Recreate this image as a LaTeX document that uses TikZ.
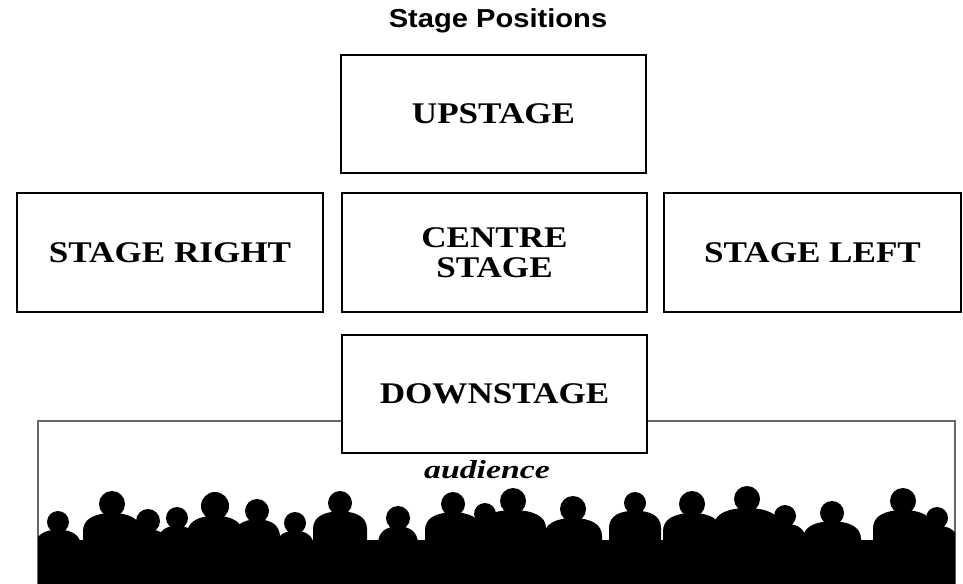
\documentclass[tikz,border=0pt]{standalone}
\usepackage{fontspec}
\setmainfont{Liberation Serif}
\newfontfamily\boxfont[FakeStretch=1.17]{Liberation Serif}
\newfontfamily\titlefont[FakeStretch=1.12]{Liberation Sans}
\newfontfamily\audfont[FakeStretch=1.3]{Liberation Serif}
\begin{document}
\begin{tikzpicture}[x=0.75pt,y=-0.75pt,
  stagebox/.style={draw=black, line width=2.1pt, fill=white, inner sep=0pt,
    minimum width=228.75pt, minimum height=88.5pt, align=center,
    font=\boxfont\bfseries\fontsize{22.5pt}{22.5pt}\selectfont},
  person/.style={fill=black},
]
\useasboundingbox (0,0) rectangle (963,584);

% title
\node[anchor=base, font=\titlefont\bfseries\fontsize{19.5pt}{19.5pt}\selectfont] (title) at (498,28) {Stage Positions};

% auditorium outline
\draw[line width=1.3pt, draw=black!60] (38,584) -- (38,421) -- (955,421) -- (955,584);

% audience silhouettes: head plus sloping shoulders for each spectator
\begin{scope}
  \clip (38,421) rectangle (955,584);
  \fill (38,540) rectangle (955,584);
  \foreach \cx/\cy/\r/\w in {
    58/522/11/23, 112/504/13/29, 148/521/12/21, 177/518/11/19,
    215/506/14/28, 257/511/12/23, 295/523/11/19, 340/503/12/27,
    398/518/12/20, 453/504/12/28, 485/514/11/21, 513/501/13/33,
    573/509/13/29, 635/503/11/26, 692/504/13/29, 747/499/13/33,
    785/516/11/21, 832/513/12/29, 903/501/13/30, 937/518/11/21}{
    \fill[person] (\cx-\w,590) -- (\cx-\w,\cy+\r+14)
      .. controls (\cx-\w,\cy+\r+2) and (\cx-\w*0.6,\cy+\r*0.7) .. (\cx,\cy+\r*0.7)
      .. controls (\cx+\w*0.6,\cy+\r*0.7) and (\cx+\w,\cy+\r+2) .. (\cx+\w,\cy+\r+14)
      -- (\cx+\w,590) -- cycle;
    \fill[person] (\cx,\cy) circle[radius=\r*0.75pt];
  }
\end{scope}

% stage areas
\node[stagebox, minimum width=228.75pt] (up) at (493.5,114) {UPSTAGE};
\node[stagebox, minimum width=229.5pt, minimum height=89.25pt] (right) at (170,252.5) {STAGE RIGHT};
\node[stagebox, minimum height=89.25pt] (centre) at (494.5,252.5) {CENTRE\\STAGE};
\node[stagebox, minimum width=222.75pt, minimum height=89.25pt] (left) at (812.5,252.5) {STAGE LEFT};
\node[stagebox] (down) at (494.5,394) {DOWNSTAGE};

% audience label
\node[anchor=base, font=\audfont\bfseries\itshape\fontsize{19.5pt}{19.5pt}\selectfont] (aud) at (487,478) {audience};
\end{tikzpicture}
\end{document}
